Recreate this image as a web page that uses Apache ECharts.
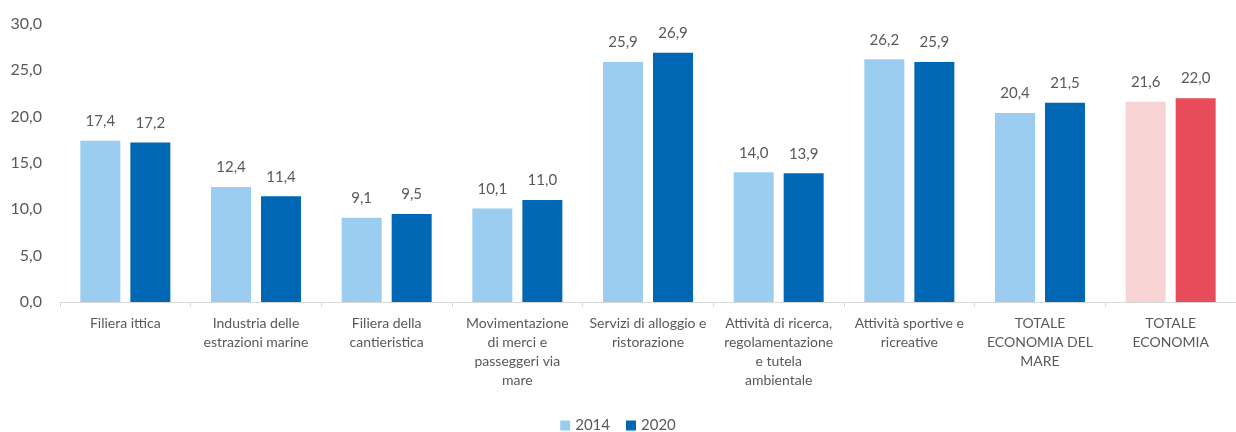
<!DOCTYPE html>
<html>
<head>
<meta charset="utf-8">
<script src="https://cdn.jsdelivr.net/npm/echarts@6/dist/echarts.min.js"></script>
<style>
  html, body { margin: 0; padding: 0; background: #fff; }
  #chart { width: 1236px; height: 432px; }
</style>
</head>
<body>
<div id="chart"></div>
<script>
var categories = [
    'Filiera ittica',
    'Industria delle\nestrazioni marine',
    'Filiera della\ncantieristica',
    'Movimentazione\ndi merci e\npasseggeri via\nmare',
    'Servizi di alloggio e\nristorazione',
    'Attività di ricerca,\nregolamentazione\ne tutela\nambientale',
    'Attività sportive e\nricreative',
    'TOTALE\nECONOMIA DEL\nMARE',
    'TOTALE\nECONOMIA'
];
var values2014 = [17.4, 12.4, 9.1, 10.1, 25.9, 14.0, 26.2, 20.4, 21.6];
var values2020 = [17.2, 11.4, 9.5, 11.0, 26.9, 13.9, 25.9, 21.5, 22.0];
var yTicks = { min: 0, max: 30, interval: 5 };

var light = '#9ACDF0', dark = '#0067B4';
var lightRed = '#F8D3D3', darkRed = '#E84C5B';
var lastIndex = categories.length - 1;

function withHighlight(values, color) {
    return values.map(function (v, i) {
        return i === lastIndex ? { value: v, itemStyle: { color: color } } : v;
    });
}

function fmt(v) {
    return v.toFixed(1).replace('.', ',');
}

var font = 'Lato, "Open Sans", sans-serif';
var chart = echarts.init(document.getElementById('chart'));
chart.setOption({
    animation: false,
    textStyle: { fontFamily: font },
    grid: { left: 60, top: 24, width: 1187, height: 278 },
    legend: {
        top: 413,
        left: 'center',
        itemWidth: 10,
        itemHeight: 10,
        itemGap: 16,
        icon: 'rect',
        textStyle: { color: '#595959', fontSize: 15, fontFamily: font },
        data: ['2014', '2020']
    },
    xAxis: {
        type: 'category',
        data: categories,
        axisLine: { lineStyle: { color: '#D9D9D9', width: 1 } },
        axisTick: { show: true, length: 5, lineStyle: { color: '#D9D9D9' } },
        axisLabel: {
            interval: 0,
            color: '#595959',
            fontSize: 14,
            lineHeight: 19,
            margin: 12,
            fontFamily: font
        }
    },
    yAxis: {
        type: 'value',
        min: yTicks.min,
        max: yTicks.max,
        interval: yTicks.interval,
        splitLine: { show: false },
        axisLine: { show: false },
        axisTick: { show: false },
        axisLabel: {
            color: '#595959',
            fontSize: 16,
            margin: 18,
            fontFamily: font,
            formatter: fmt
        }
    },
    series: [
        {
            name: '2014',
            type: 'bar',
            barWidth: 40,
            barGap: '25%',
            itemStyle: { color: light },
            data: withHighlight(values2014, lightRed),
            label: {
                show: true,
                position: 'top',
                distance: 12,
                color: '#595959',
                fontSize: 15,
                fontFamily: font,
                formatter: function (p) { return fmt(p.value); }
            }
        },
        {
            name: '2020',
            type: 'bar',
            barWidth: 40,
            itemStyle: { color: dark },
            data: withHighlight(values2020, darkRed),
            label: {
                show: true,
                position: 'top',
                distance: 12,
                color: '#595959',
                fontSize: 15,
                fontFamily: font,
                formatter: function (p) { return fmt(p.value); }
            }
        }
    ]
});
</script>
</body>
</html>
